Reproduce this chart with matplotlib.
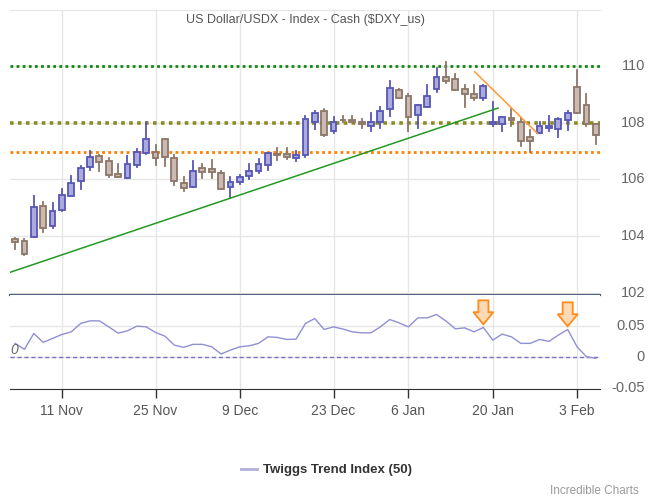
import numpy as np
import matplotlib.pyplot as plt
import matplotlib.transforms as mtransforms
from matplotlib.patches import Rectangle, Polygon

plt.rcParams['font.family'] = ['Liberation Sans', 'DejaVu Sans']

# daily candles (open, high, low, close)
opens = [103.88, 103.84, 103.97, 105.07, 104.36, 104.93, 105.42, 105.95, 106.45, 106.84,
         106.66, 106.20, 106.06, 106.52, 106.95, 106.97, 107.44, 106.77, 105.88, 105.74,
         106.41, 106.38, 106.24, 105.74, 105.92, 106.13, 106.31, 106.52, 106.91, 106.91,
         106.77, 106.87, 108.04, 108.43, 107.72, 108.11, 108.11, 108.04, 107.90, 108.04,
         108.47, 109.14, 108.93, 108.29, 108.57, 109.18, 109.60, 109.53, 109.18, 109.03,
         108.89, 107.94, 107.94, 108.18, 108.04, 107.48, 107.65, 107.83, 107.79, 108.11,
         109.25, 108.61, 107.97]
highs = [103.92, 103.88, 105.40, 105.19, 105.15, 105.65, 106.11, 106.48, 107.02, 106.87,
         106.77, 106.56, 106.84, 107.09, 108.01, 107.20, 107.44, 106.87, 106.07, 106.66,
         106.56, 106.67, 106.31, 106.10, 106.17, 106.56, 106.73, 106.95, 107.12, 107.12,
         107.02, 108.25, 108.43, 108.50, 108.22, 108.25, 108.25, 108.15, 108.33, 108.54,
         109.49, 109.18, 109.03, 108.64, 109.32, 109.92, 110.13, 109.71, 109.35, 109.35,
         109.35, 108.75, 108.22, 108.47, 108.18, 107.76, 108.01, 108.25, 108.18, 108.43,
         109.85, 109.00, 107.97]
lows = [103.55, 103.33, 103.97, 104.13, 104.29, 104.88, 105.42, 105.66, 106.33, 106.29,
        106.10, 106.10, 106.06, 106.45, 106.91, 106.51, 106.47, 105.79, 105.59, 105.74,
        106.06, 106.06, 105.67, 105.35, 105.85, 106.02, 106.24, 106.34, 106.70, 106.73,
        106.66, 106.80, 107.79, 107.55, 107.65, 108.04, 108.01, 107.83, 107.72, 107.83,
        108.25, 108.89, 107.72, 107.83, 108.54, 109.07, 109.39, 109.14, 108.57, 108.82,
        108.82, 107.90, 107.72, 107.90, 107.19, 106.98, 107.65, 107.72, 107.48, 107.76,
        108.36, 107.90, 107.26]
closes = [103.79, 103.37, 105.03, 104.29, 104.89, 105.46, 105.88, 106.41, 106.80, 106.63,
          106.17, 106.10, 106.56, 106.98, 107.44, 106.77, 106.80, 105.95, 105.71, 106.31,
          106.27, 106.27, 105.67, 105.92, 106.10, 106.31, 106.56, 106.95, 106.87, 106.80,
          106.87, 108.15, 108.36, 107.58, 108.04, 108.08, 108.01, 107.94, 108.01, 108.43,
          109.21, 108.89, 108.22, 108.64, 108.96, 109.60, 109.46, 109.14, 109.03, 108.89,
          109.28, 108.04, 108.22, 108.08, 107.37, 107.37, 107.87, 107.90, 108.15, 108.33,
          108.36, 107.94, 107.58]

# Twiggs Trend Index (50)
tti = [0.0224, 0.0128, 0.0383, 0.0240, 0.0303, 0.0367, 0.0409, 0.0543, 0.0585, 0.0585,
       0.0489, 0.0388, 0.0425, 0.0500, 0.0489, 0.0399, 0.0340, 0.0196, 0.0160, 0.0208,
       0.0208, 0.0169, 0.0053, 0.0117, 0.0169, 0.0185, 0.0224, 0.0329, 0.0319, 0.0287,
       0.0292, 0.0543, 0.0623, 0.0447, 0.0489, 0.0454, 0.0409, 0.0393, 0.0393, 0.0489,
       0.0607, 0.0553, 0.0489, 0.0633, 0.0633, 0.0687, 0.0583, 0.0457, 0.0473, 0.0409,
       0.0479, 0.0276, 0.0372, 0.0329, 0.0224, 0.0224, 0.0287, 0.0256, 0.0356, 0.0447,
       0.0169, 0.0010, -0.0016]

tick_idx = [5, 15, 24, 34, 42, 51, 60]
tick_labels = ['11 Nov', '25 Nov', '9 Dec', '23 Dec', '6 Jan', '20 Jan', '3 Feb']
price_ticks = [102, 104, 106, 108, 110]
tti_ticks = [-0.05, 0, 0.05]
tti_tick_labels = ['-0.05', '0', '0.05']

# support / resistance levels and trendlines
levels = [110.0, 108.0, 106.96]
level_colors = ['#118811', '#8c8c22', '#ff8000']
up_trend = ([-0.54, 51.57], [102.72, 108.52])
down_trend = ([49.07, 55.78], [109.80, 107.62])
signals = [50, 59]

fig = plt.figure(figsize=(6.5, 5), dpi=100)
left, right = 10 / 650, 600 / 650
ax1 = fig.add_axes([left, 1 - 295 / 500, right - left, 285 / 500])
ax2 = fig.add_axes([left, 1 - 388.5 / 500, right - left, 93.5 / 500], sharex=ax1)

n = len(opens)
x = np.arange(n)
w = 0.62
for i in range(n):
    o, h, l, c = opens[i], highs[i], lows[i], closes[i]
    if c >= o:
        fc, ec = '#aaaadc', '#5656b6'
    else:
        fc, ec = '#cbbab2', '#8c7668'
    ax1.plot([i, i], [l, h], color=ec, lw=1.3, zorder=3)
    ax1.add_patch(Rectangle((i - w / 2, min(o, c)), w, max(abs(c - o), 0.03),
                            facecolor=fc, edgecolor=ec, lw=1.3, zorder=4))

for lev, col in zip(levels, level_colors):
    lw = 2.6 if col == '#8c8c22' else 2.0
    ax1.axhline(lev, color=col, lw=lw, ls=(0, (1, 1.2)), zorder=2)

ax1.plot(*up_trend, color='#229922', lw=1.1, zorder=5)
ax1.plot(*down_trend, color='#ff9933', lw=1.1, zorder=5)

ax1.set_ylim(101.92, 111.98)
ax1.set_yticks(price_ticks)
ax1.set_xlim(-0.54, 62.45)
ax1.text(0.5, 0.985, 'US Dollar/USDX - Index - Cash ($DXY_us)', transform=ax1.transAxes,
         ha='center', va='top', fontsize=9, color='#555555')

# indicator panel
ax2.plot(x, tti, color='#9090d4', lw=1.0, zorder=3)
ax2.axhline(0, color='#7a70c4', lw=1.0, ls=(0, (3, 2)), zorder=2)
ax2.set_ylim(-0.05, 0.10)
ax2.set_yticks(tti_ticks)
ax2.text(-0.45, 0.0, '0', ha='left', va='bottom', fontsize=10, color='#666666',
         style='italic')

# signal arrows
aw, sw, ah, hh = 1.07, 0.54, 0.0385, 0.0196
for s in signals:
    tip = tti[s] + 0.005
    top = tip + ah
    neck = tip + hh
    pts = [(s - sw, top), (s + sw, top), (s + sw, neck), (s + aw, neck),
           (s, tip), (s - aw, neck), (s - sw, neck)]
    ax2.add_patch(Polygon(pts, closed=True, facecolor='#ffd8b4', edgecolor='#ff8c1a',
                          lw=1.3, zorder=6))

for ax in (ax1, ax2):
    ax.set_xticks(tick_idx)
    ax.grid(axis='x', color='#e6e6e6', lw=1)
    ax.grid(axis='y', color='#e6e6e6', lw=1)
    ax.tick_params(axis='y', length=0, labelleft=False, labelright=False)
    for sp in ax.spines.values():
        sp.set_visible(False)
    ax.set_axisbelow(True)

# right-aligned value labels outside the plot
for ax, vals, labs in ((ax1, price_ticks, [str(v) for v in price_ticks]),
                       (ax2, tti_ticks, tti_tick_labels)):
    tr = mtransforms.blended_transform_factory(fig.transFigure, ax.transData)
    for v, lab in zip(vals, labs):
        ax.text(645 / 650, v, lab, transform=tr, ha='right', va='center',
                fontsize=10.5, color='#666666', clip_on=False)

ax1.tick_params(axis='x', length=0, labelbottom=False)
ax1.spines['top'].set_visible(True)
ax1.spines['top'].set_color('#e6e6e6')
ax1.spines['bottom'].set_visible(True)
ax1.spines['bottom'].set_color('#4e6380')
ax1.spines['bottom'].set_linewidth(1.6)

ax2.set_xticklabels(tick_labels)
ax2.tick_params(axis='x', length=6.5, width=1, color='#333333', labelsize=10,
                labelcolor='#555555', pad=5)
ax2.spines['bottom'].set_visible(True)
ax2.spines['bottom'].set_color('#333333')

# legend and credit
fig.add_artist(plt.Line2D([241 / 650, 257 / 650], [1 - 469 / 500, 1 - 469 / 500],
                          color='#b0b0dc', lw=2))
fig.text(263 / 650, 1 - 470 / 500, 'Twiggs Trend Index (50)', ha='left', va='center',
         fontsize=9.5, fontweight='bold', color='#333333')
fig.text(639 / 650, 1 - 491 / 500, 'Incredible Charts', ha='right', va='center',
         fontsize=8.5, color='#999999')

fig.savefig('out.png', dpi=100)
